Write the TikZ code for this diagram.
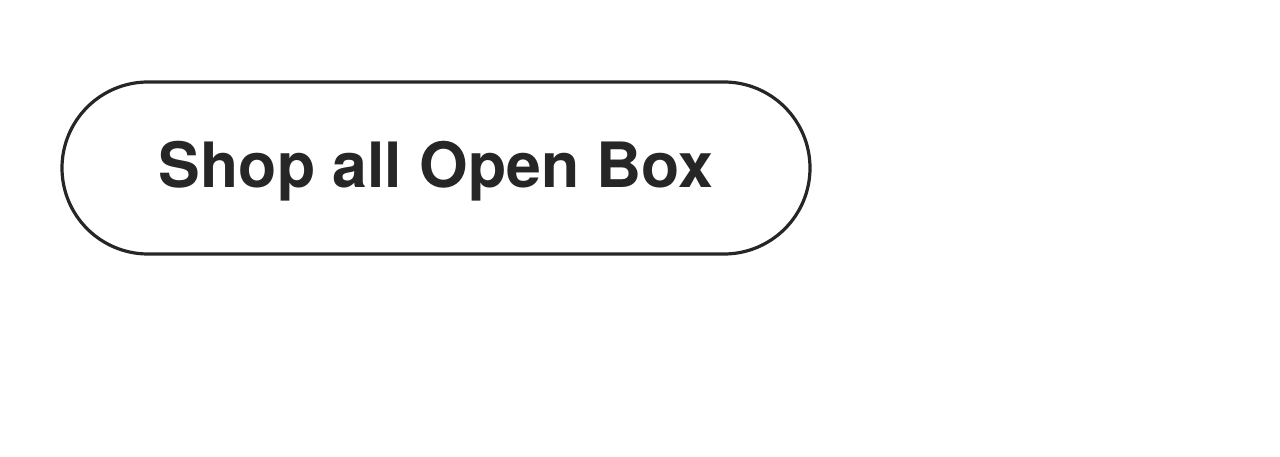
\documentclass[tikz,border=0pt]{standalone}
\usepackage{fontspec}
\setmainfont{TeX Gyre Heros}
\definecolor{ink}{HTML}{262626}
\begin{document}
\begin{tikzpicture}[x=1pt,y=1pt,
  pill/.style={draw=ink,line width=3.2pt,rounded corners=86pt,fill=white}]
\useasboundingbox[fill=white] (0,0) rectangle (1280,456);
\draw[pill] (62,202) rectangle (810,374);
\node[text=ink,font=\fontsize{62.5}{66}\selectfont\bfseries,inner sep=0] (lbl) at (436,285) {Shop all Open Box};
\end{tikzpicture}
\end{document}
